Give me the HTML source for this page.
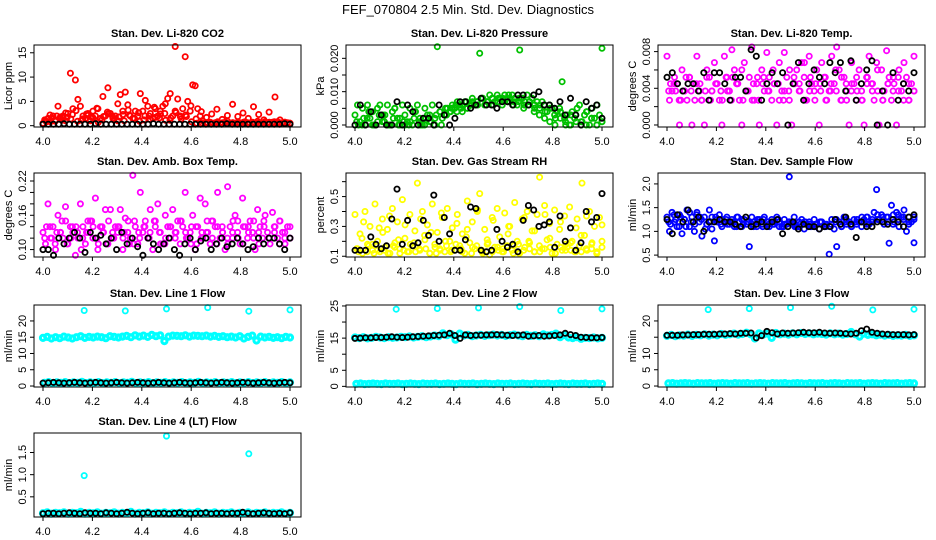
<!DOCTYPE html>
<html><head><meta charset="utf-8"><style>
html,body{margin:0;padding:0;background:#fff;}
svg{display:block;font-family:"Liberation Sans",sans-serif;}
</style></head><body>
<svg id="c" width="936" height="540" viewBox="0 0 936 540" xmlns="http://www.w3.org/2000/svg">
<text x="468" y="14" text-anchor="middle" font-size="13">FEF_070804  2.5 Min. Std. Dev. Diagnostics</text>
</svg>
<script>
// ---- data ----
const xTicks = [4.0, 4.2, 4.4, 4.6, 4.8, 5.0];
const xTickLabels = ["4.0", "4.2", "4.4", "4.6", "4.8", "5.0"];
const outlierX = [4.167, 4.333, 4.5, 4.667, 4.833, 5.0];
const outlierX4 = [4.167, 4.5, 4.833];

const co2Red = [0.5,1,1.5,0.8,2,1.2,4,1.5,2,1,2.5,10.8,3.5,9.4,5.4,4,2,1.5,2.5,1,3,2,3.5,1.5,6,2,7.8,2.5,1.5,2,4.5,6.4,3,6.9,4.3,2,1.5,3,2,6.6,3,5.2,4,2.5,1.5,3.5,2,3,4,4.5,5.6,6.6,2,16.3,5.5,2,3.5,14.2,5,3,8.4,8.2,3.5,2,1,0.6,0.5,0.7,0.5,0.6,0.8,0.5,0.6,0.7,0.9,0.5,0.6,0.5,0.7,0.6,0.5,0.8,0.6,0.5,0.7,0.6,0.9,0.5,0.6,0.8,0.6,0.5,0.7,5.9,0.8,1.2,0.6,0.7,0.6,0.5];
const co2Red2 = [1.2,2.2,0.9,1.8,2.6,1.4,3.1,1.1,2.4,1.7,3.6,1.3,2.8,1.9,1.0,2.3,3.2,1.5,2.7,1.2,2.0,3.8,1.6,2.5,1.1,3.0,1.8,2.2,4.1,1.4,2.9,1.7,2.4,3.4,1.3,2.1,4.4,1.9,2.6,1.5,3.9,2.3,1.2,2.8,0.8,0.6,0.7,0.5];
const co2Red3 = [0.8,1.5,2.0,1.1,1.7,2.3,0.9,1.4,2.1,1.6,0.7,1.9,2.5,1.2,1.8,1.0,2.2,1.5,0.9,2.0,1.3,1.7,2.4,1.1,1.6,2.7,1.4,1.9,0.8,0.5,0.6,0.4,0.5,0.6,0.5,0.4,0.6,0.5,0.7,0.5,0.4,0.6,0.5,0.7,0.5,0.6,0.4,0.5];
const co2Black = [0.3,0.3,0.3,0.3,0.4,0.3,0.3,0.3,0.3,0.3,0.4,0.3,0.3,0.3,0.3,0.3,0.3,0.3,0.3,0.3,0.3,0.4,0.3,0.3,0.3,0.3,0.3,0.3,0.3,0.3,0.3,0.3,0.3,0.3,0.3,0.4,0.3,0.3,0.3,0.3,0.3,0.3,0.3,0.3,0.3,0.3,0.4,0.3];

const presGreen = [0.003,0.006,0.001,0.005,0.0,0.006,0.002,0.004,0.0,0.005,0.006,0.001,0.003,0.006,0.0,0.004,0.005,0.002,0.0,0.006,0.003,0.001,0.005,0.0,0.004,0.006,0.002,0.0,0.005,0.003,0.001,0.006,0.0,0.0235,0.004,0.002,0.003,0.005,0.004,0.006,0.005,0.007,0.006,0.004,0.007,0.005,0.006,0.008,0.006,0.007,0.0215,0.008,0.006,0.007,0.009,0.008,0.007,0.009,0.008,0.006,0.009,0.008,0.007,0.009,0.008,0.006,0.0225,0.008,0.007,0.009,0.007,0.008,0.006,0.007,0.005,0.007,0.006,0.004,0.006,0.005,0.003,0.004,0.005,0.013,0.002,0.003,0.0,0.004,0.002,0.005,0.006,0.001,0.003,0.004,0.0,0.005,0.002,0.006,0.003,0.023];
const presGreen2 = [0.001,0.0,0.002,0.0,0.001,0.003,0.0,0.002,0.0,0.001,0.0,0.002,0.001,0.0,0.003,0.002,0.004,0.005,0.004,0.006,0.005,0.007,0.006,0.007,0.008,0.007,0.008,0.007,0.008,0.007,0.006,0.007,0.005,0.006,0.004,0.003,0.002,0.001,0.0,0.002,0.001,0.0,0.003,0.001,0.0,0.002,0.0,0.001];
const presGreen3 = [0.0,0.002,0.004,0.0,0.003,0.001,0.0,0.005,0.002,0.0,0.001,0.004,0.0,0.002,0.001,0.003,0.0,0.003,0.005,0.004,0.006,0.005,0.007,0.006,0.008,0.007,0.006,0.008,0.007,0.009,0.007,0.008,0.006,0.007,0.005,0.006,0.004,0.005,0.002,0.004,0.0,0.003,0.001,0.0,0.004,0.002,0.0,0.001];
const presBlack = [0.0,0.006,0.0,0.004,0.0,0.003,0.0,0.0,0.007,0.0,0.006,0.004,0.0,0.002,0.002,0.0,0.006,0.003,0.0,0.002,0.007,0.007,0.005,0.006,0.008,0.006,0.006,0.005,0.007,0.007,0.006,0.009,0.009,0.006,0.009,0.010,0.006,0.006,0.005,0.007,0.003,0.008,0.003,0.0,0.007,0.005,0.006,0.002];

const tempMag = [0.0075,0.0027,0.0037,0.0052,0.0045,0.0,0.006,0.0037,0.0027,0.0052,0.0,0.0045,0.0075,0.0037,0.0027,0.0,0.006,0.0052,0.0037,0.0068,0.0045,0.0027,0.0,0.0075,0.0052,0.0037,0.0082,0.006,0.0045,0.0027,0.0,0.0068,0.0037,0.0052,0.0085,0.0027,0.0045,0.0,0.006,0.0037,0.0079,0.0052,0.0027,0.0045,0.0,0.0068,0.0037,0.0079,0.0052,0.0027,0.0,0.0045,0.006,0.0037,0.0068,0.0052,0.0027,0.0075,0.0045,0.0037,0.006,0.0,0.0068,0.0052,0.0027,0.0037,0.0075,0.0045,0.0085,0.006,0.0027,0.0052,0.0037,0.0,0.0068,0.0045,0.0027,0.006,0.0037,0.0,0.0052,0.0075,0.0045,0.0027,0.0068,0.0,0.006,0.0037,0.0081,0.0052,0.0027,0.0045,0.0,0.006,0.0037,0.0068,0.0052,0.0027,0.0045,0.0075];
const tempMag2 = [0.0037,0.0045,0.0027,0.0037,0.0052,0.0027,0.0045,0.0037,0.0027,0.0045,0.0037,0.0052,0.0027,0.0045,0.006,0.0037,0.0027,0.0052,0.0045,0.0037,0.006,0.0045,0.0027,0.0037,0.0052,0.0045,0.0068,0.0037,0.0027,0.0045,0.0052,0.0037,0.006,0.0027,0.0045,0.0037,0.0052,0.0027,0.0045,0.0037,0.006,0.0027,0.0045,0.0037,0.0052,0.0045,0.0027,0.0037];
const tempMag3 = [0.0045,0.0037,0.0027,0.0052,0.0037,0.0045,0.0027,0.0052,0.0037,0.0045,0.0027,0.0037,0.0052,0.0045,0.0027,0.0037,0.0045,0.0027,0.0052,0.0037,0.0045,0.0027,0.0037,0.006,0.0045,0.0037,0.0027,0.0052,0.0045,0.0037,0.0027,0.0045,0.0037,0.0052,0.0027,0.0045,0.0037,0.0027,0.0052,0.0045,0.0037,0.0027,0.0045,0.0052,0.0037,0.0027,0.0045,0.0037];
const tempBlack = [0.0052,0.0057,0.0045,0.0037,0.0045,0.0045,0.0037,0.0057,0.0027,0.0057,0.0057,0.0045,0.0027,0.0052,0.0052,0.0037,0.0082,0.0075,0.0027,0.0045,0.0057,0.0045,0.0057,0.0,0.0045,0.0068,0.0027,0.0045,0.006,0.0052,0.0045,0.0068,0.0057,0.0068,0.0037,0.007,0.0027,0.0045,0.006,0.007,0.0,0.0037,0.0,0.0057,0.0027,0.0045,0.0037,0.0057];

const ambMag = [0.13,0.11,0.18,0.12,0.14,0.10,0.16,0.13,0.12,0.175,0.11,0.14,0.13,0.09,0.12,0.18,0.14,0.11,0.13,0.15,0.12,0.19,0.10,0.14,0.13,0.17,0.11,0.17,0.12,0.14,0.13,0.17,0.10,0.155,0.13,0.12,0.23,0.14,0.11,0.20,0.13,0.15,0.12,0.17,0.10,0.14,0.18,0.13,0.11,0.16,0.14,0.12,0.17,0.13,0.15,0.11,0.14,0.20,0.12,0.13,0.16,0.10,0.14,0.19,0.12,0.18,0.13,0.11,0.15,0.14,0.20,0.12,0.13,0.10,0.21,0.14,0.12,0.16,0.13,0.11,0.19,0.14,0.12,0.15,0.13,0.10,0.17,0.14,0.12,0.16,0.13,0.11,0.165,0.14,0.12,0.15,0.13,0.11,0.14,0.12];
const ambMag2 = [0.12,0.14,0.11,0.13,0.15,0.12,0.14,0.10,0.13,0.15,0.12,0.14,0.11,0.13,0.14,0.12,0.15,0.11,0.13,0.14,0.12,0.15,0.13,0.11,0.14,0.12,0.15,0.13,0.11,0.14,0.12,0.13,0.15,0.11,0.14,0.12,0.13,0.15,0.11,0.14,0.12,0.13,0.15,0.12,0.14,0.11,0.13,0.12];
const ambMag3 = [0.14,0.12,0.13,0.15,0.11,0.14,0.13,0.12,0.15,0.14,0.11,0.13,0.15,0.12,0.14,0.13,0.11,0.15,0.12,0.14,0.13,0.15,0.11,0.12,0.14,0.13,0.15,0.12,0.14,0.11,0.13,0.15,0.12,0.14,0.13,0.11,0.15,0.12,0.14,0.13,0.15,0.11,0.14,0.12,0.13,0.15,0.12,0.14];
const ambBlack = [0.10,0.10,0.09,0.12,0.11,0.12,0.13,0.12,0.095,0.13,0.12,0.125,0.11,0.12,0.10,0.13,0.11,0.12,0.105,0.09,0.12,0.11,0.10,0.11,0.12,0.10,0.09,0.11,0.12,0.10,0.115,0.12,0.10,0.11,0.12,0.105,0.11,0.12,0.11,0.10,0.105,0.12,0.11,0.12,0.12,0.11,0.10,0.12];

const rhYellow = [0.38,0.15,0.25,0.12,0.40,0.18,0.30,0.14,0.45,0.20,0.13,0.35,0.16,0.28,0.12,0.42,0.19,0.33,0.15,0.48,0.22,0.13,0.38,0.17,0.27,0.59,0.14,0.40,0.21,0.31,0.12,0.45,0.18,0.26,0.15,0.36,0.13,0.42,0.20,0.29,0.14,0.38,0.17,0.25,0.12,0.47,0.19,0.33,0.15,0.40,0.52,0.13,0.28,0.18,0.11,0.36,0.16,0.42,0.23,0.13,0.39,0.17,0.30,0.14,0.46,0.20,0.12,0.35,0.16,0.40,0.19,0.27,0.13,0.38,0.63,0.15,0.44,0.21,0.32,0.12,0.41,0.18,0.28,0.14,0.37,0.16,0.43,0.20,0.13,0.35,0.17,0.59,0.24,0.14,0.40,0.19,0.30,0.13,0.36,0.16];
const rhYellow2 = [0.15,0.22,0.13,0.18,0.14,0.26,0.12,0.17,0.21,0.14,0.13,0.19,0.15,0.24,0.12,0.16,0.14,0.20,0.13,0.18,0.15,0.23,0.12,0.17,0.14,0.21,0.13,0.16,0.15,0.25,0.12,0.18,0.14,0.20,0.13,0.17,0.15,0.22,0.12,0.16,0.14,0.19,0.13,0.24,0.15,0.18,0.12,0.20];
const rhYellow3 = [0.13,0.33,0.17,0.12,0.29,0.14,0.37,0.16,0.12,0.31,0.18,0.13,0.35,0.15,0.26,0.12,0.39,0.17,0.14,0.32,0.13,0.28,0.16,0.41,0.12,0.19,0.34,0.14,0.13,0.30,0.17,0.12,0.36,0.15,0.27,0.13,0.38,0.16,0.12,0.33,0.18,0.14,0.29,0.13,0.37,0.15,0.12,0.31];
const rhBlack = [0.14,0.14,0.14,0.23,0.18,0.15,0.17,0.35,0.55,0.18,0.34,0.17,0.19,0.34,0.24,0.51,0.20,0.36,0.25,0.14,0.14,0.21,0.43,0.42,0.14,0.13,0.14,0.28,0.20,0.16,0.18,0.13,0.34,0.44,0.41,0.30,0.31,0.33,0.16,0.37,0.20,0.29,0.14,0.19,0.40,0.33,0.36,0.52];

const flowBlue = [1.3,1.0,1.4,1.2,1.1,1.35,0.95,1.25,1.45,1.1,1.3,1.0,1.4,1.2,0.9,1.3,1.15,1.45,1.05,0.8,1.25,1.35,1.1,1.2,1.3,1.15,1.25,1.1,1.3,1.2,1.1,1.25,1.15,0.68,1.3,1.2,1.1,1.25,1.15,1.3,1.2,1.1,1.25,1.15,1.3,1.2,1.1,1.25,1.15,2.15,1.2,1.3,1.1,1.2,1.25,1.05,1.15,1.2,1.1,1.25,1.15,1.05,1.2,1.1,1.15,0.52,1.25,1.05,0.68,1.2,1.1,1.3,1.15,1.2,1.1,1.25,1.15,1.2,1.1,1.25,1.3,1.15,1.2,1.4,1.88,1.25,1.35,1.15,1.3,0.75,1.55,1.2,1.4,1.1,1.3,1.45,1.0,1.3,1.2,0.76];
const flowBlue2 = [1.2,1.35,1.1,1.25,1.4,1.15,1.3,1.05,1.2,1.3,1.15,1.25,1.2,1.1,1.25,1.2,1.15,1.25,1.1,1.2,1.15,1.25,1.1,1.2,1.15,1.1,1.2,1.15,1.1,1.2,1.15,1.1,1.2,1.15,1.25,1.1,1.2,1.3,1.15,1.25,1.35,1.2,1.3,1.15,1.35,1.25,1.2,1.3];
const flowBlue3 = [1.15,1.25,1.3,1.1,1.2,1.35,1.25,1.15,1.3,1.2,1.25,1.15,1.2,1.3,1.15,1.2,1.1,1.2,1.25,1.15,1.2,1.1,1.15,1.2,1.1,1.15,1.2,1.1,1.15,1.2,1.1,1.15,1.25,1.1,1.2,1.15,1.25,1.2,1.3,1.2,1.25,1.3,1.2,1.35,1.25,1.3,1.15,1.25];
const flowBlack = [1.25,0.95,1.35,1.2,1.45,1.2,1.3,1.0,1.2,1.2,1.25,1.2,1.2,1.15,1.1,1.3,1.1,1.15,1.2,1.1,1.2,1.25,0.95,1.1,1.2,1.05,1.15,1.1,1.1,1.05,1.1,1.1,1.25,1.15,1.3,1.15,0.87,1.2,1.1,1.1,1.2,1.2,1.15,1.25,1.2,1.1,1.3,1.35];

const line1Band = [14.8,15.1,14.6,15.0,14.7,15.2,14.9,14.6,15.0,15.3,14.8,15.1,14.9,15.2,15.0,14.7,15.3,15.1,14.9,15.2,15.4,15.0,15.6,15.2,15.5,15.1,15.7,15.3,15.6,13.8,15.2,15.5,15.4,15.3,15.6,15.2,15.5,15.4,15.3,15.5,15.2,15.4,15.1,15.3,15.0,15.2,14.9,15.3,14.6,15.1,15.5,14.0,15.2,14.9,15.1,14.8,15.0,14.7,15.1,14.9];
const line1Low = [1.0,1.2,0.9,1.1,1.0,1.2,0.9,1.1,1.0,1.3,0.9,1.1,1.0,1.2,0.9,1.1,1.0,1.2,0.9,1.1,1.0,1.3,0.9,1.1,1.0,1.2,0.9,1.1,1.0,1.2,0.9,1.1,1.0,1.2,0.9,1.1,1.0,1.3,0.9,1.1,1.0,1.2,0.9,1.1,1.0,1.2,0.9,1.1,1.0,1.2,0.9,1.1,1.0,1.2,0.9,1.1,1.0,1.2,0.9,1.1];
const line1Black = [0.9,1.0,1.1,1.0,0.9,1.0,1.1,1.0,0.9,1.0,1.1,1.0,0.9,1.0,1.1,1.0,0.9,1.0,1.1,1.0,0.9,1.0,1.1,1.0,0.9,1.0,1.1,1.0,0.9,1.0,1.1,1.0,0.9,1.0,1.1,1.0,0.9,1.0,1.1,1.0,0.9,1.0,1.1,1.0,0.9,1.0,1.1,1.0];
const line1Out = [23.2,23.1,23.7,24.1,23.0,23.4];

const line2Band = [15.2,15.0,15.3,14.9,15.1,15.4,15.2,15.0,15.3,15.1,15.2,15.4,15.3,15.5,15.2,15.4,15.6,15.3,15.5,15.8,15.6,16.5,15.9,16.2,14.5,16.4,15.8,16.0,15.6,15.8,16.0,15.7,15.9,16.1,15.8,16.0,15.7,15.9,16.1,15.8,15.6,16.0,15.7,15.9,15.6,16.2,15.8,16.0,16.4,15.3,15.9,15.2,15.0,15.3,14.8,15.1,15.0,15.2,14.9,15.1];
const line2Low = [0.8,0.9,0.7,0.8,0.9,0.8,0.7,0.9,0.8,0.8,0.9,0.7,0.8,0.9,0.8,0.7,0.9,0.8,0.8,0.9,0.7,0.8,0.9,0.8,0.7,0.9,0.8,0.8,0.9,0.7,0.8,0.9,0.8,0.7,0.9,0.8,0.8,0.9,0.7,0.8,0.9,0.8,0.7,0.9,0.8,0.8,0.9,0.7,0.8,0.9,0.8,0.7,0.9,0.8,0.8,0.9,0.7,0.8,0.9,0.8];
const line2Black = [14.9,15.0,15.1,15.1,15.2,15.2,15.3,15.4,15.3,15.2,15.3,15.4,15.5,15.6,15.7,15.8,15.9,16.0,16.5,15.8,14.9,16.0,15.8,15.9,15.9,16.0,16.0,16.1,16.0,15.9,15.8,15.9,16.0,15.6,15.7,15.8,15.6,15.7,15.8,16.0,16.5,16.1,15.8,15.3,15.2,15.1,15.1,15.2];
const line2Out = [24.0,24.2,24.4,24.8,23.6,24.1];

const line3Band = [15.4,15.7,15.3,15.6,15.5,15.8,15.4,15.7,15.6,15.9,15.5,15.8,15.6,16.0,15.7,15.9,16.1,15.8,16.0,16.4,15.9,14.6,16.2,15.8,16.1,14.8,16.3,15.9,16.1,15.8,16.2,15.9,16.3,16.0,16.2,15.9,16.1,16.0,15.8,16.2,15.9,16.1,15.8,16.0,16.6,15.9,15.2,16.1,15.7,15.9,15.6,15.8,15.5,15.7,15.4,15.6,15.5,15.7,15.4,15.6];
const line3Low = [0.8,0.9,0.7,0.8,0.9,0.8,0.7,0.9,0.8,0.8,0.9,0.7,0.8,0.9,0.8,0.7,0.9,0.8,0.8,0.9,0.7,0.8,0.9,0.8,0.7,0.9,0.8,0.8,0.9,0.7,0.8,0.9,0.8,0.7,0.9,0.8,0.8,0.9,0.7,0.8,0.9,0.8,0.7,0.9,0.8,0.8,0.9,0.7,0.8,0.9,0.8,0.7,0.9,0.8,0.8,0.9,0.7,0.8,0.9,0.8];
const line3Black = [15.6,15.6,15.6,15.7,15.7,15.8,15.8,15.9,15.9,15.9,16.0,16.0,16.1,16.0,16.2,16.2,16.3,14.8,15.5,16.8,16.4,16.0,16.3,16.2,16.3,16.4,16.5,16.4,16.4,16.5,16.3,16.2,16.3,16.2,16.1,16.0,16.2,17.0,17.5,16.5,16.2,16.0,15.9,15.8,15.8,15.8,15.7,15.8];
const line3Out = [23.5,23.8,24.1,24.5,23.4,23.6];

const line4Band = [0.13,0.15,0.12,0.14,0.13,0.15,0.12,0.14,0.13,0.16,0.12,0.14,0.13,0.15,0.12,0.14,0.13,0.15,0.12,0.14,0.13,0.16,0.12,0.14,0.13,0.15,0.12,0.14,0.13,0.15,0.12,0.14,0.13,0.15,0.12,0.14,0.13,0.16,0.12,0.14,0.13,0.15,0.12,0.14,0.13,0.15,0.12,0.14,0.13,0.15,0.12,0.14,0.13,0.15,0.12,0.14,0.13,0.15,0.12,0.14];
const line4Black = [0.12,0.13,0.13,0.12,0.13,0.14,0.13,0.12,0.14,0.13,0.13,0.12,0.14,0.13,0.12,0.13,0.15,0.13,0.12,0.13,0.14,0.12,0.13,0.13,0.12,0.13,0.14,0.13,0.12,0.13,0.13,0.14,0.12,0.13,0.13,0.12,0.13,0.13,0.15,0.13,0.12,0.13,0.14,0.13,0.12,0.13,0.12,0.14];
const line4Out = [0.98,1.87,1.47];

// ---- layout ----
const NS = "http://www.w3.org/2000/svg";
const svg = document.getElementById('c');
const rowTop = [45, 173, 305, 433];
const rowH = [82, 84, 82, 84];
function mk(tag, attrs, parent) {
  const e = document.createElementNS(NS, tag);
  for (const k in attrs) e.setAttribute(k, attrs[k]);
  (parent || svg).appendChild(e);
  return e;
}
const panels = [
  {t:"Stan. Dev. Li-820 CO2", yl:"Licor ppm", lo:-0.27, hi:16.6, ticks:[0,5,10,15], labs:{0:"0",5:"5",10:"10",15:"15"},
   series:[[co2Red,"#ff0000"],[co2Red2,"#ff0000"],[co2Red3,"#ff0000"],[co2Black,"#000"]]},
  {t:"Stan. Dev. Li-820 Pressure", yl:"kPa", lo:-0.0006, hi:0.024, ticks:[0,0.005,0.01,0.015,0.02], labs:{0:"0.000",0.01:"0.010",0.02:"0.020"},
   series:[[presGreen,"#00c000"],[presGreen2,"#00c000"],[presGreen3,"#00c000"],[presBlack,"#000"]]},
  {t:"Stan. Dev. Li-820 Temp.", yl:"degrees C", lo:-0.00022, hi:0.00872, ticks:[0,0.002,0.004,0.006,0.008], labs:{0:"0.000",0.004:"0.004",0.008:"0.008"},
   series:[[tempMag,"#ff00ff"],[tempMag2,"#ff00ff"],[tempMag3,"#ff00ff"],[tempBlack,"#000"]]},
  {t:"Stan. Dev. Amb. Box Temp.", yl:"degrees C", lo:0.087, hi:0.234, ticks:[0.10,0.12,0.14,0.16,0.18,0.20,0.22], labs:{0.1:"0.10",0.16:"0.16",0.22:"0.22"},
   series:[[ambMag,"#ff00ff"],[ambMag2,"#ff00ff"],[ambMag3,"#ff00ff"],[ambBlack,"#000"]]},
  {t:"Stan. Dev. Gas Stream RH", yl:"percent", lo:0.095, hi:0.658, ticks:[0.1,0.2,0.3,0.4,0.5,0.6], labs:{0.1:"0.1",0.3:"0.3",0.5:"0.5"},
   series:[[rhYellow,"#ffff00"],[rhYellow2,"#ffff00"],[rhYellow3,"#ffff00"],[rhBlack,"#000"]]},
  {t:"Stan. Dev. Sample Flow", yl:"ml/min", lo:0.46, hi:2.23, ticks:[0.5,1.0,1.5,2.0], labs:{0.5:"0.5",1:"1.0",1.5:"1.5",2:"2.0"},
   series:[[flowBlue,"#0000ff"],[flowBlue2,"#0000ff"],[flowBlue3,"#0000ff"],[flowBlack,"#000"]]},
  {t:"Stan. Dev. Line 1 Flow", yl:"ml/min", lo:-0.3, hi:24.9, ticks:[0,5,10,15,20], labs:{0:"0",5:"5",10:"10",15:"15",20:"20"},
   series:[[line1Band,"#00ffff"],[line1Low,"#00ffff"],[line1Black,"#000"]], out:[outlierX,line1Out], band:true},
  {t:"Stan. Dev. Line 2 Flow", yl:"ml/min", lo:-0.2, hi:25.3, ticks:[0,5,10,15,20,25], labs:{0:"0",5:"5",15:"15",25:"25"},
   series:[[line2Band,"#00ffff"],[line2Low,"#00ffff"],[line2Black,"#000"]], out:[outlierX,line2Out], band:true},
  {t:"Stan. Dev. Line 3 Flow", yl:"ml/min", lo:-0.3, hi:24.9, ticks:[0,5,10,15,20], labs:{0:"0",5:"5",10:"10",20:"20"},
   series:[[line3Band,"#00ffff"],[line3Low,"#00ffff"],[line3Black,"#000"]], out:[outlierX,line3Out], band:true},
  {t:"Stan. Dev. Line 4 (LT) Flow", yl:"ml/min", lo:0.045, hi:1.94, ticks:[0.5,1.0,1.5], labs:{0.5:"0.5",1:"1.0",1.5:"1.5"},
   series:[[line4Band,"#00ffff"],[line4Black,"#000"]], out:[outlierX4,line4Out], band:true}
];

panels.forEach((p, i) => {
  const r = Math.floor(i / 3), c = i % 3;
  const L = 34 + c * 312, W = 267, T = rowTop[r], H = rowH[r], B = T + H;
  const g = mk('g', {});
  
  
  const xs = v => L + 9 + (v - 4) * 247;
  const ys = v => B - (v - p.lo) / (p.hi - p.lo) * H;
  const t = mk('text', {x: L + W / 2, y: T - 8, 'text-anchor': 'middle', 'font-size': 11, 'font-weight': 'bold'}, g);
  t.textContent = p.t;
  
  
  const pts = mk('g', {fill: 'none', 'stroke-width': 1.8}, g);
  
  
  const draw = (xv, yv, col, sw) => {
    const ci = mk('circle', {cx: xv.toFixed(1), cy: yv.toFixed(1), r: 2.6, stroke: col}, pts);
    if (sw) ci.setAttribute('stroke-width', sw);
    
    
  };
  const nS = p.series.length;
  p.series.forEach((s, si) => {
    const arr = s[0];
    if (si === nS - 1 && p.out) {
      p.out[1].forEach((v, k) => draw(xs(p.out[0][k]), ys(v), "#00ffff"));
    }
    const isBlack = s[1] === "#000";
    const off = isBlack ? 0 : (si % 3) / 3;
    arr.forEach((v, k) => {
      const xv = 4 + (k + off) / (arr.length - 1 + off);
      draw(xs(Math.min(xv, 5)), ys(v), s[1], (p.band && !isBlack) ? 3 : null);
    });
  });
  const box = mk('path', {d: `M${L} ${T}H${L + W}V${B}H${L}Z`, fill: 'none', stroke: '#000', 'stroke-width': 1}, g);
  
  
  const xa = mk('g', {}, g);
  
  
  mk('line', {x1: xs(4), x2: xs(5), y1: B, y2: B, stroke: '#000'}, xa);
  xTicks.forEach((v, k) => {
    mk('line', {x1: xs(v), x2: xs(v), y1: B, y2: B + 4, stroke: '#000'}, xa);
    const tl = mk('text', {x: xs(v), y: B + 18, 'text-anchor': 'middle', 'font-size': 11}, xa);
    tl.textContent = xTickLabels[k];
    
    
  });
  const ya = mk('g', {}, g);
  
  
  mk('line', {x1: L, x2: L, y1: ys(p.ticks[0]), y2: ys(p.ticks[p.ticks.length - 1]), stroke: '#000'}, ya);
  p.ticks.forEach(v => {
    mk('line', {x1: L - 4, x2: L, y1: ys(v), y2: ys(v), stroke: '#000'}, ya);
    const key = Object.keys(p.labs).find(k => Math.abs(parseFloat(k) - v) < 1e-9);
    if (key !== undefined) {
      const yy = ys(v);
      const tl = mk('text', {x: L - 8, y: yy, transform: `rotate(-90 ${L - 8} ${yy})`, 'text-anchor': 'middle', 'font-size': 11}, ya);
      tl.textContent = p.labs[key];
      
      
    }
  });
  const cy = T + H / 2;
  const yt = mk('text', {x: L - 22, y: cy, transform: `rotate(-90 ${L - 22} ${cy})`, 'text-anchor': 'middle', 'font-size': 11}, g);
  yt.textContent = p.yl;
  
  
});
</script>
</body></html>
